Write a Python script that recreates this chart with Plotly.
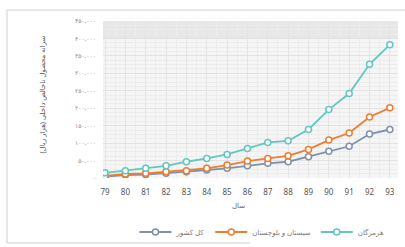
import plotly.graph_objects as go

years = ["79", "80", "81", "82", "83", "84", "85", "86", "87", "88", "89", "90", "91", "92", "93"]
hormozgan = [15000, 21000, 27600, 35000, 46600, 56000, 67600, 84800, 102000, 106600, 139000, 196000, 242000, 326000, 382000]
sistan = [6000, 11400, 13400, 18000, 21000, 27600, 37000, 48600, 56000, 63700, 82000, 108600, 129000, 175000, 201000]
country = [4000, 8600, 10000, 13400, 18000, 23000, 27600, 35000, 42000, 46600, 61000, 77000, 91000, 126000, 139000]

series_names = ["کل کشور", "سیستان و بلوچستان", "هرمزگان"]
y_tickvals = [0, 50000, 100000, 150000, 200000, 250000, 300000, 350000, 400000, 450000]
y_ticktext = ["۰", "۵۰,۰۰۰", "۱۰۰,۰۰۰", "۱۵۰,۰۰۰", "۲۰۰,۰۰۰", "۲۵۰,۰۰۰", "۳۰۰,۰۰۰", "۳۵۰,۰۰۰", "۴۰۰,۰۰۰", "۴۵۰,۰۰۰"]
y_title = "سرانه محصول ناخالص داخلی (هزار ریال)"
x_title = "سال"

W, H = 405, 247
L, R, T, B = 103, 7, 21, 69
pw, ph = W - L - R, H - T - B

def px(x):
    return (x - L) / pw

def py(y):
    return (H - B - y) / ph

colors = ["#8092ab", "#ee7d31", "#63c6c1"]
data = [country, sistan, hormozgan]

fig = go.Figure()
for name, vals, c in zip(series_names, data, colors):
    fig.add_trace(go.Scatter(
        x=list(range(len(years))), y=vals, name=name, mode="lines+markers",
        line=dict(color=c, width=1.8),
        marker=dict(symbol="circle", size=6, color="white", line=dict(color=c, width=1.5)),
    ))

fig.update_layout(
    width=W, height=H,
    margin=dict(l=L, r=R, t=T, b=B, autoexpand=False),
    paper_bgcolor="white",
    plot_bgcolor="#f5f5f5",
    font=dict(family="Noto Sans, DejaVu Sans", color="#666"),
    showlegend=True,
    legend=dict(orientation="h", x=px(262), xanchor="center", y=py(232), yanchor="middle",
                font=dict(size=7, color="#777"), itemwidth=32, tracegroupgap=0,
                bgcolor="rgba(0,0,0,0)"),
    xaxis=dict(
        range=[-0.1, 14.4],
        tickvals=list(range(len(years))), ticktext=years,
        tickfont=dict(size=8, color="#555"),
        showgrid=True, gridcolor="#e4e4e4", gridwidth=1,
        minor=dict(dtick=0.5, showgrid=True, gridcolor="#ececec"),
        zeroline=False, showline=False, ticks="",
        ticklabelstandoff=8, automargin=False,
    ),
    yaxis=dict(
        range=[0, 450000],
        tickvals=y_tickvals, ticktext=y_ticktext,
        tickfont=dict(size=6, color="#888"),
        showgrid=True, gridcolor="#e2e2e2", gridwidth=1,
        minor=dict(dtick=12500, showgrid=True, gridcolor="#ececec"),
        zeroline=False, showline=False, ticks="",
        ticklabelstandoff=6, automargin=False,
    ),
)

# hatched-looking top band
fig.add_shape(type="rect", xref="paper", yref="y", x0=0, x1=1, y0=400000, y1=450000,
              fillcolor="#e7e7e7", line=dict(width=0), layer="below")

# card border
fig.add_shape(type="line", xref="paper", yref="paper", x0=px(7), x1=px(405), y0=py(10), y1=py(10),
              line=dict(color="#cfcfcf", width=1))
fig.add_shape(type="line", xref="paper", yref="paper", x0=px(7), x1=px(7), y0=py(10), y1=py(243),
              line=dict(color="#cfcfcf", width=1))
fig.add_shape(type="line", xref="paper", yref="paper", x0=px(7), x1=px(250), y0=py(243), y1=py(243),
              line=dict(color="#cfcfcf", width=1))

fig.add_annotation(text=y_title, xref="paper", yref="paper", x=px(35), y=py(95),
                   textangle=-90, showarrow=False, font=dict(size=7, color="#555"))
fig.add_annotation(text=x_title, xref="paper", yref="paper", x=px(238), y=py(212),
                   showarrow=False, font=dict(size=7, color="#666"))

fig.write_html("out.html", config={"displayModeBar": False},
               post_script="document.body.style.margin='0';document.body.style.overflow='hidden';")
